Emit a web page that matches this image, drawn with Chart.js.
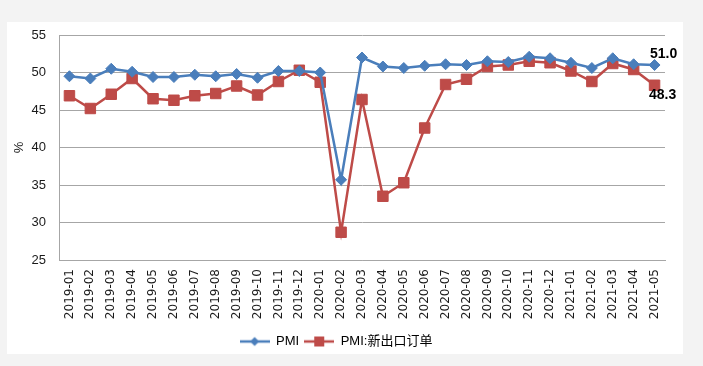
<!DOCTYPE html>
<html>
<head>
<meta charset="utf-8">
<script src="https://cdn.jsdelivr.net/npm/chart.js@4.4.0/dist/chart.umd.min.js"></script>
<style>
  html, body { margin: 0; padding: 0; background: #f3f3f3; }
  #painel { position: absolute; left: 7px; top: 22px; width: 676px; height: 332px; background: #ffffff; }
  #grafico-pmi { display: block; }
</style>
</head>
<body>
<div id="painel"><canvas id="grafico-pmi" width="676" height="332"></canvas></div>
<script>
const meses = ['2019-01', '2019-02', '2019-03', '2019-04', '2019-05', '2019-06', '2019-07', '2019-08', '2019-09', '2019-10',
    '2019-11', '2019-12', '2020-01', '2020-02', '2020-03', '2020-04', '2020-05', '2020-06', '2020-07', '2020-08',
    '2020-09', '2020-10', '2020-11', '2020-12', '2021-01', '2021-02', '2021-03', '2021-04', '2021-05'];
const pmi = [49.5, 49.2, 50.5, 50.1, 49.4, 49.4, 49.7, 49.5, 49.8, 49.3,
    50.2, 50.2, 50.0, 35.7, 52.0, 50.8, 50.6, 50.9, 51.1, 51.0,
    51.5, 51.4, 52.1, 51.9, 51.3, 50.6, 51.9, 51.1, 51.0];
const novasExportacoes = [46.9, 45.2, 47.1, 49.2, 46.5, 46.3, 46.9, 47.2, 48.2, 47.0,
    48.8, 50.3, 48.7, 28.7, 46.4, 33.5, 35.3, 42.6, 48.4, 49.1,
    50.8, 51.0, 51.5, 51.3, 50.2, 48.8, 51.2, 50.4, 48.3];
const ticksY = [25, 30, 35, 40, 45, 50, 55];

const AZUL = '#4a7ebb';
const VERMELHO = '#be4b48';

// linha + marcador para a legenda
function iconeLegenda(cor, tipo) {
    const c = document.createElement('canvas');
    c.width = 30;
    c.height = 12;
    const ctx = c.getContext('2d');
    ctx.strokeStyle = cor;
    ctx.fillStyle = cor;
    ctx.lineWidth = 2.5;
    ctx.beginPath();
    ctx.moveTo(0, 6);
    ctx.lineTo(30, 6);
    ctx.stroke();
    ctx.beginPath();
    if (tipo === 'losango') {
        ctx.moveTo(15, 1.5);
        ctx.lineTo(19.5, 6);
        ctx.lineTo(15, 10.5);
        ctx.lineTo(10.5, 6);
        ctx.closePath();
        ctx.fill();
    } else {
        ctx.fillRect(10, 1, 10, 10);
    }
    return c;
}

// rótulos do último ponto
const rotuloFinal = {
    id: 'rotuloFinal',
    afterDatasetsDraw(chart) {
        const ctx = chart.ctx;
        const ultimo = meses.length - 1;
        const p0 = chart.getDatasetMeta(0).data[ultimo];
        const p1 = chart.getDatasetMeta(1).data[ultimo];
        ctx.save();
        ctx.font = 'bold 14px "Liberation Sans", Arial, sans-serif';
        ctx.fillStyle = '#000000';
        ctx.textAlign = 'center';
        ctx.textBaseline = 'middle';
        ctx.fillText(pmi[ultimo].toFixed(1), p0.x + 9, p0.y - 11);
        ctx.fillText(novasExportacoes[ultimo].toFixed(1), p1.x + 8, p1.y + 10);
        ctx.restore();
    }
};

function desenharGrafico() {
    const ctx = document.getElementById('grafico-pmi').getContext('2d');
    const icones = [iconeLegenda(AZUL, 'losango'), iconeLegenda(VERMELHO, 'quadrado')];
    new Chart(ctx, {
        type: 'line',
        data: {
            labels: meses,
            datasets: [{
                label: 'PMI',
                data: pmi,
                borderColor: AZUL,
                backgroundColor: AZUL,
                borderWidth: 2.5,
                pointStyle: 'rectRot',
                pointRadius: 5.5,
                pointBorderWidth: 1,
                tension: 0
            }, {
                label: 'PMI:新出口订单',
                data: novasExportacoes,
                borderColor: VERMELHO,
                backgroundColor: VERMELHO,
                borderWidth: 2.5,
                pointStyle: 'rect',
                pointRadius: 7.4,
                pointBorderWidth: 1,
                tension: 0
            }]
        },
        options: {
            responsive: false,
            animation: false,
            devicePixelRatio: 1,
            layout: { padding: { top: 13, right: 18, left: 0, bottom: -4 } },
            plugins: {
                tooltip: { enabled: false },
                legend: {
                    position: 'bottom',
                    labels: {
                        usePointStyle: true,
                        pointStyleWidth: 30,
                        padding: 5,
                        color: '#1a1a1a',
                        font: { family: '"Liberation Sans", "Noto Sans CJK SC", sans-serif', size: 13 },
                        generateLabels(chart) {
                            return chart.data.datasets.map((ds, i) => ({
                                text: ds.label,
                                fillStyle: ds.borderColor,
                                strokeStyle: ds.borderColor,
                                lineWidth: 0,
                                pointStyle: icones[i],
                                datasetIndex: i,
                                hidden: false
                            }));
                        }
                    }
                }
            },
            scales: {
                x: {
                    offset: true,
                    grid: { display: false, offset: true },
                    border: { display: true, color: '#a6a6a6', width: 1 },
                    ticks: {
                        autoSkip: false,
                        maxRotation: 90,
                        minRotation: 90,
                        padding: 1,
                        color: '#1a1a1a',
                        font: { family: '"DejaVu Sans", sans-serif', size: 12 }
                    },
                    afterFit(scale) { scale.height = 70; }
                },
                y: {
                    min: 25,
                    max: 55,
                    afterBuildTicks(scale) { scale.ticks = ticksY.map(v => ({ value: v })); },
                    grid: { color: '#a6a6a6', lineWidth: 1, drawTicks: true, tickLength: 10, tickColor: 'rgba(0,0,0,0)' },
                    border: { display: true, color: '#a6a6a6', width: 1 },
                    ticks: {
                        padding: 3,
                        color: '#1a1a1a',
                        font: { family: '"Liberation Sans", Arial, sans-serif', size: 13 }
                    },
                    title: {
                        display: true,
                        text: '%',
                        color: '#1a1a1a',
                        padding: { top: 5, bottom: 0 },
                        font: { family: '"Liberation Sans", Arial, sans-serif', size: 13 }
                    },
                    afterFit(scale) { scale.width = 52; }
                }
            }
        },
        plugins: [rotuloFinal]
    });
}

document.addEventListener('DOMContentLoaded', function() {
    desenharGrafico();
});
</script>
</body>
</html>
